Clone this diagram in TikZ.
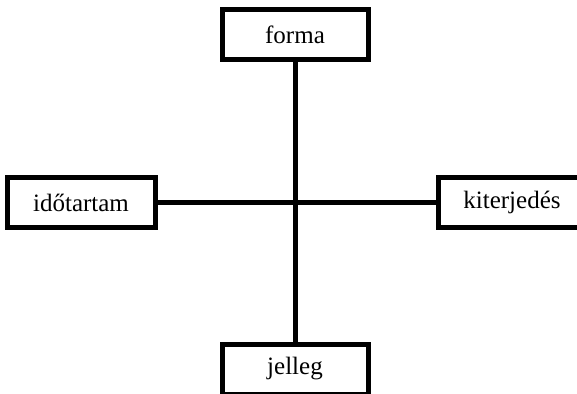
\documentclass[tikz,border=0pt]{standalone}
\usepackage{fontspec}
\setmainfont{Liberation Serif}
\usetikzlibrary{positioning}

\begin{document}
\begin{tikzpicture}[x=1pt,y=1pt,
    dimbox/.style={draw, line width=5pt, minimum width=146pt, minimum height=50pt, inner sep=0pt, font=\fontsize{25}{28}\selectfont},
    axis/.style={line width=5pt}]
\clip (0,0) rectangle (577,-393);
\useasboundingbox (0,0) rectangle (577,-393);
\node[dimbox] (forma) at (295,-35) {forma};
\node[dimbox] (jelleg) at (295,-369) {jelleg};
\node[dimbox, minimum width=148pt] (ido) at (81,-202.5) {időtartam};
\node[dimbox, minimum width=148pt] (kiterj) at (512,-202.5) {kiterjedés};
\draw[axis](forma.south)--(jelleg.north);
\draw[axis](ido.east)--(kiterj.west);
\end{tikzpicture}
\end{document}
